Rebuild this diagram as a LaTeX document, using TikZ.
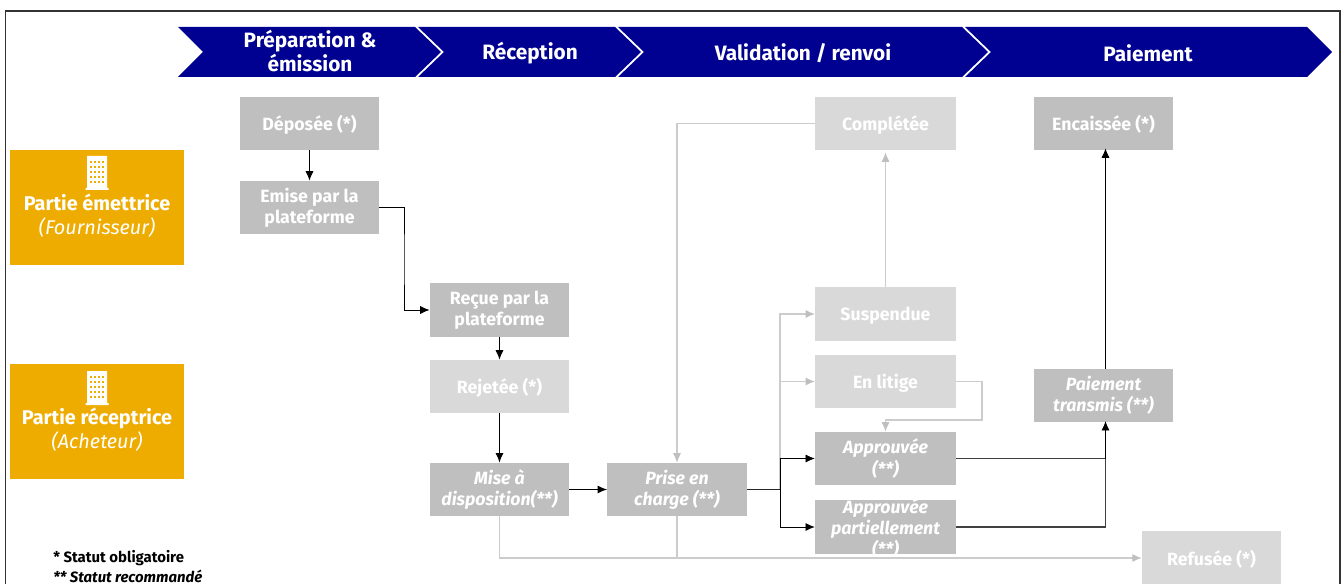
\documentclass[tikz,border=0pt]{standalone}
\usepackage{fontspec}
\setmainfont{Fira Sans}
\usetikzlibrary{arrows.meta}

\definecolor{navy}{HTML}{000091}
\definecolor{jaune}{HTML}{EFAC00}
\definecolor{grisfort}{HTML}{BFBFBF}
\definecolor{grisclair}{HTML}{D9D9D9}
\definecolor{grisligne}{HTML}{CCCCCC}

\def\boxw{104.5pt}
\def\boxww{105.5pt}
\def\boxh{40pt}
\def\ctop{27}
\def\cbot{77}
\def\cmid{52}

\tikzset{
  phase/.style={text=white, font=\fontsize{15.6}{18.5}\selectfont\bfseries, align=center},
  partie/.style={fill=jaune, text=white, minimum width=130.5pt, minimum height=86pt, inner sep=0pt, align=center, font=\fontsize{14.9}{18}\selectfont},
  statut/.style={fill=grisfort, text=white, minimum width=\boxw, minimum height=\boxh, inner sep=0pt, align=center, font=\fontsize{13.3}{15.8}\selectfont\bfseries, execute at begin node={\rule{0pt}{13pt}}},
  statutl/.style={statut, fill=grisclair},
  deux/.style={statut, execute at begin node={\rule{0pt}{14.5pt}}},
  note/.style={anchor=west, inner sep=0pt, font=\fontsize{11.2}{13}\selectfont\bfseries},
  fort/.style={draw=black, -{Latex[length=7pt,width=6pt]}, line width=0.6pt},
  faible/.style={draw=grisligne, -{Latex[length=7pt,width=6pt,color=grisfort]}, line width=0.8pt},
  faibleb/.style={draw=grisligne, line width=0.8pt},
}

\newcommand{\batiment}[2]{
  \fill[white] (#1-10,#2-17) -- ++(20,0) -- ++(0,32) -- ++(1.5,0) -- ++(0,2) -- ++(-23,0) -- ++(0,-2) -- ++(1.5,0) -- cycle;
  \foreach \i in {-6,-2,2,6} {
    \foreach \j in {-11,-6,-1,4,9} {
      \fill[jaune] (#1+\i-1,#2+\j-1) rectangle ++(2,2);
    }
  }
}

\begin{document}
\begin{tikzpicture}[x=0.75pt,y=-0.75pt]
    \useasboundingbox (0,0) rectangle (1341,584);

    \draw[black!80, line width=0.9pt] (5.5,584) -- (5.5,11) -- (1340,11) -- (1340,584);

    \fill[navy] (178,\ctop) -- (415,\ctop) -- (441,\cmid) -- (415,\cbot) -- (178,\cbot) -- (203,\cmid) -- cycle;
    \fill[navy] (418,\ctop) -- (615,\ctop) -- (641,\cmid) -- (615,\cbot) -- (418,\cbot) -- (444,\cmid) -- cycle;
    \fill[navy] (618,\ctop) -- (962,\ctop) -- (988,\cmid) -- (962,\cbot) -- (618,\cbot) -- (644,\cmid) -- cycle;
    \fill[navy] (965,\ctop) -- (1307,\ctop) -- (1332,\cmid) -- (1307,\cbot) -- (965,\cbot) -- (991,\cmid) -- cycle;

    \node[phase] (preparation) at (310,51) {Préparation \&\\émission};
    \node[phase] (reception) at (530,53) {Réception};
    \node[phase] (validation) at (803,53) {Validation / renvoi};
    \node[phase] (paiement) at (1148,53) {Paiement};

    \node[partie] (emettrice) at (97,207.5) {\rule{0pt}{10pt}\\[-4pt]\textbf{Partie émettrice}\\\textit{(Fournisseur)}};
    \node[partie] (receptrice) at (97,421.5) {\rule{0pt}{10pt}\\[-4pt]\textbf{Partie réceptrice}\\\textit{(Acheteur)}};
    \batiment{97}{173}
    \batiment{97}{388}

    \node[statut] (deposee) at (309.5,123.5) {Déposée (*)};
    \node[deux] (emise) at (309.5,207.5) {Emise par la\\plateforme};
    \node[deux] (recue) at (499.5,310) {Reçue par la\\plateforme};
    \node[statutl] (rejetee) at (499.5,386.5) {Rejetée (*)};
    \node[deux] (mise) at (499.5,489.5) {\itshape Mise à\\\itshape disposition(**)};
    \node[deux] (prise) at (677,489.5) {\itshape Prise en\\\itshape charge (**)};

    \node[statutl, minimum width=\boxww] (completee) at (885.5,123.5) {Complétée};
    \node[statutl, minimum width=\boxww] (suspendue) at (885.5,314) {Suspendue};
    \node[statutl, minimum width=\boxww] (litige) at (885.5,381.5) {En litige};
    \node[deux, minimum width=\boxww] (approuvee) at (885.5,458.5) {\itshape Approuvée\\\itshape (**)};
    \node[statut, minimum width=\boxww, execute at begin node={}] (partielle) at (885.5,527) {\raisebox{1.5pt}[0pt][0pt]{\parbox[c]{\boxww}{\centering\itshape Approuvée\\partiellement\\(**)}}};

    \node[statut] (encaissee) at (1103.5,123.5) {Encaissée (*)};
    \node[deux] (transmis) at (1103.5,395.5) {\itshape Paiement\\\itshape transmis (**)};
    \node[statutl] (refusee) at (1211.5,558) {Refusée (*)};

    \node[note] (obligatoire) at (53,558.5) {* Statut obligatoire};
    \node[note] (recommande) at (53,576) {\itshape ** Statut recommandé};

    \coordinate (coudeA) at (404,260);
    \coordinate (coudeB) at (780,489.5);
    \coordinate (coudeC) at (982,420);
    \coordinate (coudeD) at (1105.5,458.5);
    \coordinate (coudeE) at (885.5,420);
    \coordinate (coudeF) at (499.5,558);
    \coordinate (coudeG) at (677,558);

    \draw[faible] (completee.west) -| (prise.north);
    \draw[faible] (suspendue.north) -- ([yshift=-1.5pt]completee.south);
    \draw[faible] (coudeB) |- (suspendue.west);
    \draw[faible] (coudeB) |- (litige.west);
    \draw[faible] (litige.east) -| (coudeC) -- (coudeE) -- (approuvee.north);
    \draw[faible] (mise.south) -- (coudeF) -- (refusee.west);
    \draw[faibleb] (prise.south) -- (coudeG);

    \draw[fort] (deposee.south) -- (emise.north);
    \draw[fort] (emise.east) -| (coudeA) |- (recue.west);
    \draw[fort] (recue.south) -- (rejetee.north);
    \draw[fort, line width=0.9pt] (rejetee.south) -- (mise.north);
    \draw[fort, line width=0.9pt] (mise.east) -- (prise.west);
    \draw[black!85, line width=1.2pt] (prise.east) -- (coudeB);
    \draw[fort] (coudeB) |- (approuvee.west);
    \draw[fort] (coudeB) |- (partielle.west);
    \draw[black!75, line width=1pt] (approuvee.east) -- (coudeD);
    \draw[black!75, line width=0.9pt] (partielle.east) -| (coudeD);
    \draw[fort] (coudeD) -- ([xshift=1.5pt,yshift=1pt]transmis.south);
    \draw[fort] ([xshift=1.5pt]transmis.north) -- ([xshift=1.5pt,yshift=1.5pt]encaissee.south);
\end{tikzpicture}
\end{document}
